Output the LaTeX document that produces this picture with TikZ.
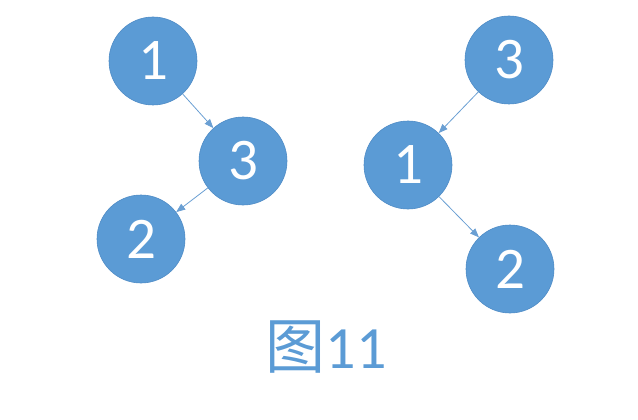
\documentclass[tikz,border=0pt]{standalone}
\usepackage{fontspec}
\setmainfont{Carlito}
\newfontfamily\cjk{Noto Sans CJK SC}
\usetikzlibrary{arrows.meta}
\definecolor{nodeblue}{HTML}{5B9BD5}
\definecolor{edgeblue}{HTML}{4F8CC6}
\definecolor{arrowblue}{HTML}{6A9FD3}
\begin{document}
\begin{tikzpicture}[x=1pt,y=-1pt,
  tnode/.style={circle,fill=nodeblue,draw=edgeblue,line width=0.6pt,minimum size=88pt,inner sep=0pt,text=white,font=\fontsize{59}{59}\selectfont},
  link/.style={draw=arrowblue,line width=0.8pt,-{Triangle[length=9pt,width=7pt]}}]
\useasboundingbox (0,0) rectangle (638,420);
\node[tnode] (a1) at (153,61) {1};
\node[tnode] (a3) at (243,161) {3};
\node[tnode] (a2) at (141,239) {2};
\node[tnode] (b3) at (509,60) {3};
\node[tnode] (b1) at (408,165) {1};
\node[tnode] (b2) at (510,269) {2};
\draw[link] (a1) -- (a3);
\draw[link] (a3) -- (a2);
\draw[link] (b3) -- (b1);
\draw[link] (b1) -- (b2);
\node[text=nodeblue,font=\fontsize{60}{60}\selectfont] (lbl) at (326,347) {{\cjk 图}11};
\end{tikzpicture}
\end{document}
